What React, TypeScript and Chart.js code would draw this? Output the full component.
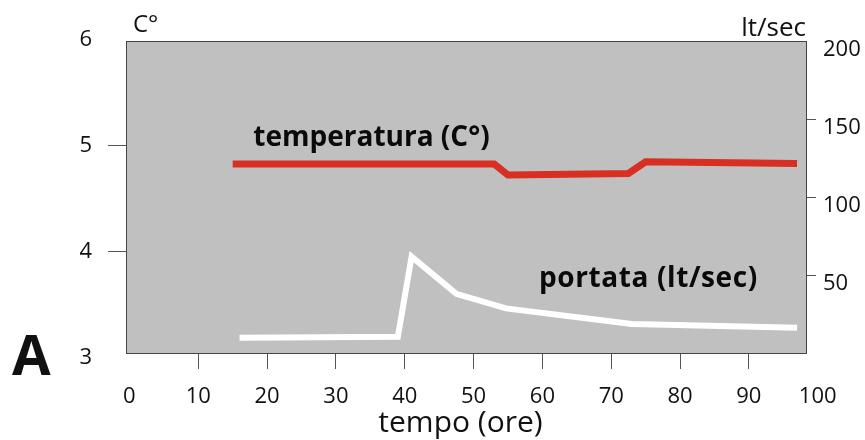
import React, { useEffect, useRef } from "react";
import { Chart, registerables } from "chart.js";

Chart.register(...registerables);

const FONT = "'Open Sans', 'Liberation Sans', sans-serif";

// x axis (hours)
const xTickValues = [0, 10, 20, 30, 40, 50, 60, 70, 80, 90, 100];
// left axis (°C)
const leftTickValues = [3, 4, 5, 6];
// right axis (lt/sec)
const rightTickValues = [50, 100, 150, 200];

// temperatura (C°)
const tempHours = [15, 53, 55, 72.5, 75, 97];
const tempValues = [4.83, 4.83, 4.725, 4.74, 4.85, 4.835];

// portata (lt/sec)
const flowHours = [16, 39, 41, 47.5, 54.7, 73, 97];
const flowValues = [9.8, 10.5, 62, 38, 28.7, 18.6, 16.3];

const xTitle = "tempo (ore)";
const leftUnit = "C°";
const rightUnit = "lt/sec";
const panelLetter = "A";
const tempLabel = "temperatura (C°)";
const flowLabel = "portata (lt/sec)";
// label anchors in data units
const tempLabelAt = { x: 18, y: 5.0 };
const flowLabelAt = { x: 59.5, y: 42.4 };

const hidden = "rgba(0,0,0,0)";
const tickMarkColor = "#555";

export default function App() {
  const ref = useRef<HTMLCanvasElement | null>(null);

  useEffect(() => {
    const canvas = ref.current;
    if (!canvas) return;

    const decor = {
      id: "decor",
      beforeDraw(chart: any) {
        const { ctx, chartArea: a } = chart;
        ctx.save();
        ctx.fillStyle = "#c0c0c0";
        ctx.fillRect(a.left, a.top, a.right - a.left, a.bottom - a.top);
        ctx.restore();
      },
      afterDraw(chart: any) {
        const { ctx, chartArea: a, scales } = chart;
        ctx.save();
        ctx.strokeStyle = "#444";
        ctx.lineWidth = 1;
        ctx.strokeRect(a.left - 0.5, a.top - 0.5, a.right - a.left + 1, a.bottom - a.top + 1);

        ctx.fillStyle = "#111";
        ctx.textBaseline = "alphabetic";
        // unit labels
        ctx.font = `24px ${FONT}`;
        ctx.textAlign = "left";
        ctx.fillText(leftUnit, a.left + 6, 32);
        ctx.font = `26px ${FONT}`;
        ctx.textAlign = "right";
        ctx.fillText(rightUnit, a.right, 36);
        // x title
        ctx.font = `30px ${FONT}`;
        ctx.textAlign = "center";
        ctx.fillText(xTitle, (a.left + a.right) / 2 - 6, 432);
        // panel letter
        ctx.font = `bold 56px ${FONT}`;
        ctx.textAlign = "left";
        ctx.fillText(panelLetter, 12, 375);
        // series labels
        ctx.fillStyle = "#0a0a0a";
        ctx.font = `bold 28px ${FONT}`;
        ctx.fillText(
          tempLabel,
          scales.x.getPixelForValue(tempLabelAt.x),
          scales.y.getPixelForValue(tempLabelAt.y)
        );
        ctx.font = `bold 28px ${FONT}`;
        try {
          (ctx as any).letterSpacing = "0.6px";
        } catch (e) {}
        ctx.fillText(
          flowLabel,
          scales.x.getPixelForValue(flowLabelAt.x),
          scales.y1.getPixelForValue(flowLabelAt.y)
        );
        ctx.restore();
      },
    };

    const chart = new Chart(canvas, {
      type: "line",
      data: {
        datasets: [
          {
            label: tempLabel,
            data: tempHours.map((h, i) => ({ x: h, y: tempValues[i] })),
            borderColor: "#d82f22",
            borderWidth: 7,
            pointRadius: 0,
            fill: false,
            tension: 0,
            yAxisID: "y",
            borderCapStyle: "butt",
            borderJoinStyle: "miter",
          },
          {
            label: flowLabel,
            data: flowHours.map((h, i) => ({ x: h, y: flowValues[i] })),
            borderColor: "#ffffff",
            borderWidth: 6,
            pointRadius: 0,
            fill: false,
            tension: 0,
            yAxisID: "y1",
            borderCapStyle: "butt",
            borderJoinStyle: "miter",
          },
        ],
      },
      options: {
        responsive: false,
        animation: false,
        events: [],
        layout: { padding: { top: 42, left: 0, right: 0, bottom: 0 } },
        plugins: {
          legend: { display: false },
          tooltip: { enabled: false },
          title: { display: false },
        },
        scales: {
          x: {
            type: "linear",
            min: -0.35,
            max: 98.3,
            afterBuildTicks: (s: any) => {
              s.ticks = xTickValues.map((v) => ({ value: v }));
            },
            afterFit: (s: any) => {
              s.height = 87;
            },
            ticks: {
              autoSkip: false,
              maxRotation: 0,
              minRotation: 0,
              padding: 15,
              color: "#111",
              font: { family: FONT, size: 22 },
              callback: (v: any) => String(v),
            },
            grid: {
              drawOnChartArea: false,
              drawTicks: true,
              tickLength: 16,
              lineWidth: 1,
              tickColor: (c: any) =>
                c.tick && (c.tick.value === 0 || c.tick.value === 100) ? hidden : tickMarkColor,
            },
            border: { display: false },
          },
          y: {
            type: "linear",
            position: "left",
            min: 3.047,
            max: 5.98,
            afterBuildTicks: (s: any) => {
              s.ticks = leftTickValues.map((v) => ({ value: v }));
            },
            afterFit: (s: any) => {
              s.width = 127;
            },
            ticks: {
              padding: 16,
              color: "#111",
              font: { family: FONT, size: 22 },
              callback: (v: any) => String(v),
            },
            grid: {
              drawOnChartArea: false,
              drawTicks: true,
              tickLength: 19,
              lineWidth: 1,
              tickColor: (c: any) =>
                c.tick && (c.tick.value === 3 || c.tick.value === 6) ? hidden : tickMarkColor,
            },
            border: { display: false },
          },
          y1: {
            type: "linear",
            position: "right",
            min: 0,
            max: 200,
            afterBuildTicks: (s: any) => {
              s.ticks = rightTickValues.map((v) => ({ value: v }));
            },
            afterFit: (s: any) => {
              s.width = 59;
            },
            ticks: {
              padding: 7,
              labelOffset: 8,
              color: "#111",
              font: { family: FONT, size: 22 },
              callback: (v: any) => String(v),
            },
            grid: {
              drawOnChartArea: false,
              drawTicks: true,
              tickLength: 10,
              lineWidth: 1,
              tickColor: (c: any) => (c.tick && c.tick.value === 200 ? hidden : tickMarkColor),
            },
            border: { display: false },
          },
        },
      },
      plugins: [decor],
    } as any);

    let alive = true;
    if ((document as any).fonts && (document as any).fonts.load) {
      Promise.all([
        (document as any).fonts.load(`22px ${FONT}`),
        (document as any).fonts.load(`bold 28px ${FONT}`),
      ])
        .then(() => {
          if (alive) chart.update();
        })
        .catch(() => {});
    }

    return () => {
      alive = false;
      chart.destroy();
    };
  }, []);

  return (
    <div style={{ position: "relative", width: 865, height: 440 }}>
      <canvas
        ref={ref}
        width={865}
        height={440}
        style={{ position: "fixed", left: 0, top: 0, width: 865, height: 440 }}
      />
    </div>
  );
}
